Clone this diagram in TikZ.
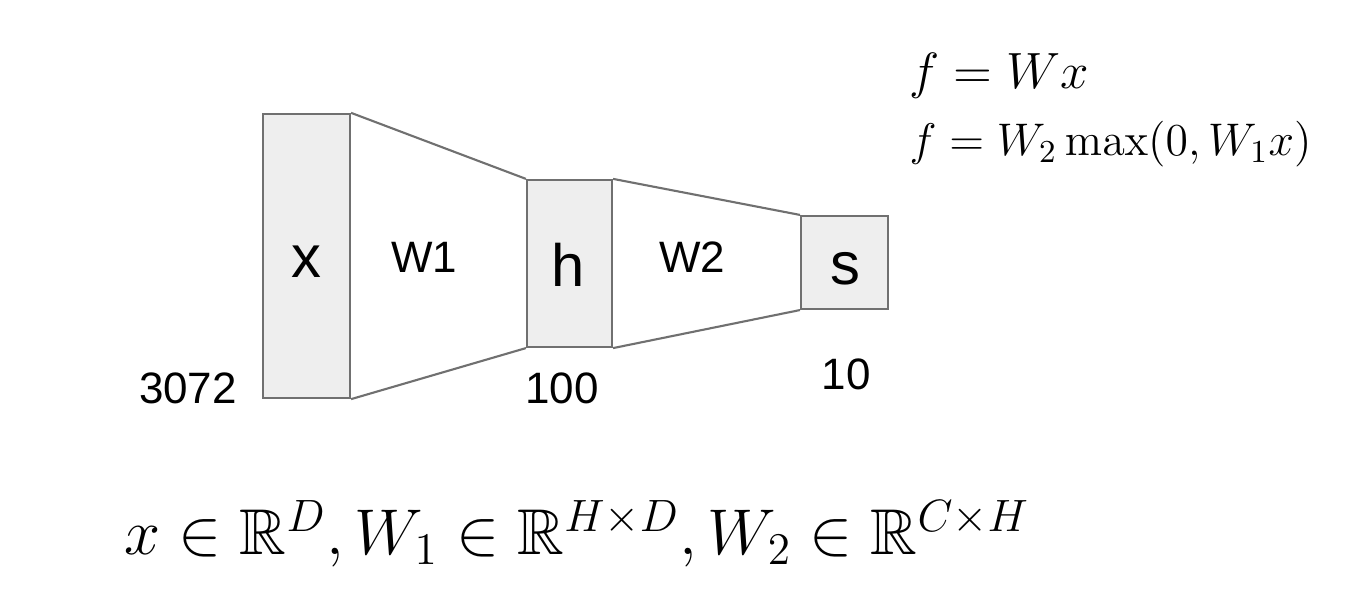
\RequirePackage{fix-cm}
\documentclass[tikz,border=0pt]{standalone}
\usepackage[no-math]{fontspec}
\setmainfont{Liberation Sans}
\usepackage{amsmath,amssymb}
\usepackage{xcolor}
\usetikzlibrary{positioning}
\definecolor{boxfill}{HTML}{EEEEEE}
\definecolor{boxline}{HTML}{707070}

\begin{document}
\begin{tikzpicture}[x=0.01cm, y=-0.01cm]
\useasboundingbox (0,0) rectangle (1361,595);
\tikzset{
  layer/.style={draw=boxline, fill=boxfill, line width=0.6pt, inner sep=0pt},
  link/.style={draw=boxline, line width=0.6pt},
  big/.style={anchor=base, font=\fontsize{17}{20}\selectfont},
  wlab/.style={anchor=base, font=\fontsize{12.5}{15}\selectfont},
  num/.style={anchor=base, font=\fontsize{12.5}{15}\selectfont},
  eqn/.style={anchor=base west, inner sep=0pt}
}

% layers
\node[layer, minimum width=0.87cm, minimum height=2.84cm] (xbox) at (306.5,256) {};
\node[layer, minimum width=0.85cm, minimum height=1.67cm] (hbox) at (569.5,263.5) {};
\node[layer, minimum width=0.87cm, minimum height=0.93cm] (sbox) at (844.5,262.5) {};

% weights
\draw[link] (xbox.north east) -- (hbox.north west);
\draw[link] (xbox.south east) -- (hbox.south west);
\draw[link] (hbox.north east) -- (sbox.north west);
\draw[link] (hbox.south east) -- (sbox.south west);

\node[big] (xlab) at (306,278) {x};
\node[big] (hlab) at (568,287) {h};
\node[big] (slab) at (845,285) {s};
\node[wlab] (wone) at (424,273) {W1};
\node[wlab] (wtwo) at (692,273) {W2};

\node[num] (nx) at (188,404) {3072};
\node[num] (nh) at (562,404) {100};
\node[num] (ns) at (846,390) {10};

% formulas
\node[eqn, font=\fontsize{14.5}{17}\selectfont] (fone) at (909,89) {$f = Wx$};
\node[eqn, font=\fontsize{13}{16}\selectfont] (ftwo) at (909,156) {$f = W_2\max(0, W_1x)$};
\node[eqn, font=\fontsize{18.4}{22}\selectfont] (dims) at (124,555)
  {$x \in \mathbb{R}^D, W_1 \in \mathbb{R}^{H\times D}, W_2 \in \mathbb{R}^{C\times H}$};

\end{tikzpicture}
\end{document}
